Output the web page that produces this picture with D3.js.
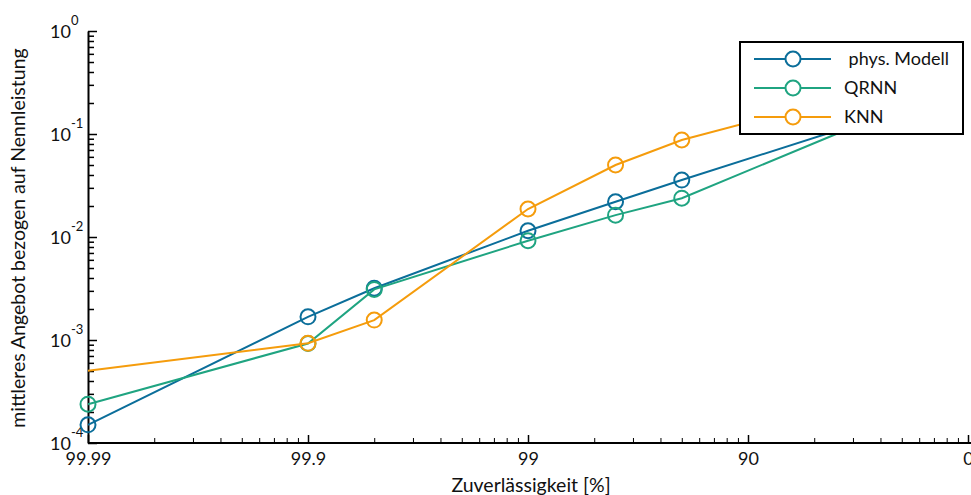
<!DOCTYPE html>
<html>
<head>
<meta charset="utf-8">
<script src="https://cdn.jsdelivr.net/npm/d3@7"></script>
<style>
  body { margin: 0; background: #fff; }
  svg { display: block; font-family: Lato, "Open Sans", sans-serif; }
</style>
</head>
<body>
<svg id="chart" width="971" height="495"></svg>
<script>
// reliability levels [%], x axis is log of (100 - reliability)
var reliability = [99.99, 99.9, 99.8, 99, 97.5, 95, 50];
var physModell = [1.50e-4, 1.68e-3, 3.18e-3, 0.0115, 0.0220, 0.0357, 0.172];
var qrnn = [2.38e-4, 9.25e-4, 3.10e-3, 0.0092, 0.0163, 0.0238, 0.184];
var knn = [5.04e-4, 9.29e-4, 1.56e-3, 0.0187, 0.050, 0.0874, 0.32];

var seriesNames = [" phys. Modell", "QRNN", "KNN"];
var xTickLabels = ["99.99", "99.9", "99", "90", "0"];
var xTickValues = [99.99, 99.9, 99, 90, 0];
var yTickExp = [0, -1, -2, -3, -4];

var colors = ["#0b6e9a", "#1fa481", "#f59c0c"];
// KNN has no marker drawn at its first point
var markerFrom = [0, 0, 1];

var svg = d3.select("#chart");

var x = d3.scaleLog().domain([0.01, 100]).range([88, 968]);
var y = d3.scaleLog().domain([1e-4, 1]).range([443, 31]);

var series = [physModell, qrnn, knn].map((vals, i) => ({
  name: seriesNames[i],
  color: colors[i],
  from: markerFrom[i],
  points: vals.map((v, j) => ({ p: 100 - reliability[j], v: v }))
}));

// axes
var isMajor = (d) => Math.abs(Math.log10(d) - Math.round(Math.log10(d))) < 1e-9;

var xMinor = x.ticks().filter((d) => !isMajor(d));
var yMinor = y.ticks().filter((d) => !isMajor(d));

svg.append("g")
  .attr("transform", "translate(0,443)")
  .call(d3.axisBottom(x).tickValues(xMinor).tickFormat("").tickSizeInner(-5).tickSizeOuter(0))
  .call((g) => g.select(".domain").remove());

var xAx = svg.append("g")
  .attr("transform", "translate(0,443)")
  .call(d3.axisBottom(x)
    .tickValues(xTickValues.map((v) => 100 - v))
    .tickFormat((d, i) => xTickLabels[i])
    .tickSizeInner(-8).tickSizeOuter(0).tickPadding(9));
xAx.select(".domain").attr("stroke-width", 2).attr("d", "M88,0H971");
xAx.selectAll(".tick line").attr("stroke-width", 1.5);
xAx.selectAll("text").attr("font-size", 18).attr("font-family", "Lato").attr("fill", "#111");

svg.append("g")
  .attr("transform", "translate(88,0)")
  .call(d3.axisLeft(y).tickValues(yMinor).tickFormat("").tickSizeInner(-6).tickSizeOuter(0))
  .call((g) => g.select(".domain").remove())
  .selectAll(".tick line").attr("stroke-width", 1.5);

var yAx = svg.append("g")
  .attr("transform", "translate(88,0)")
  .call(d3.axisLeft(y)
    .tickValues(yTickExp.map((e) => Math.pow(10, e)))
    .tickFormat("").tickSizeInner(-9).tickSizeOuter(0));
yAx.select(".domain").attr("stroke-width", 2);
yAx.selectAll(".tick line").attr("stroke-width", 1.5);

var yLab = svg.append("g").selectAll("text")
  .data(yTickExp)
  .enter()
  .append("text")
  .attr("x", 50)
  .attr("y", (d) => y(Math.pow(10, d)) + 7)
  .attr("font-size", 18)
  .attr("fill", "#111");
yLab.append("tspan").text("10");
yLab.append("tspan").attr("dy", -13).attr("font-size", 13).text((d) => d);

// axis titles
svg.append("text")
  .attr("x", 531).attr("y", 492)
  .attr("text-anchor", "middle")
  .attr("font-size", 19.5)
  .attr("fill", "#111")
  .text("Zuverlässigkeit [%]");

svg.append("text")
  .attr("transform", "translate(25,238) rotate(-90)")
  .attr("text-anchor", "middle")
  .attr("font-size", 19.5)
  .attr("fill", "#111")
  .text("mittleres Angebot bezogen auf Nennleistung");

// lines and markers
var line = d3.line().x((d) => x(d.p)).y((d) => y(d.v));

series.forEach((s) => {
  svg.append("path")
    .datum(s.points)
    .attr("d", line)
    .attr("fill", "none")
    .attr("stroke", s.color)
    .attr("stroke-width", 2);
  svg.append("g").selectAll("circle")
    .data(s.points.slice(s.from))
    .enter()
    .append("circle")
    .attr("cx", (d) => x(d.p))
    .attr("cy", (d) => y(d.v))
    .attr("r", 7.5)
    .attr("fill", "none")
    .attr("stroke", s.color)
    .attr("stroke-width", 2);
});

// legend
var lg = svg.append("g").attr("transform", "translate(740,42)");
lg.append("rect")
  .attr("width", 223).attr("height", 92)
  .attr("fill", "#fff").attr("stroke", "#000").attr("stroke-width", 2);
var row = lg.selectAll("g.row")
  .data(series)
  .enter()
  .append("g")
  .attr("class", "row")
  .attr("transform", (d, i) => "translate(0," + (17 + i * 29) + ")");
row.append("line")
  .attr("x1", 14).attr("x2", 91)
  .attr("stroke", (d) => d.color).attr("stroke-width", 2);
row.append("circle")
  .attr("cx", 53).attr("r", 7.5)
  .attr("fill", "#fff")
  .attr("stroke", (d) => d.color).attr("stroke-width", 2);
row.append("text")
  .attr("x", 104).attr("y", 6)
  .attr("font-size", 18)
  .attr("fill", "#111")
  .attr("xml:space", "preserve")
  .style("white-space", "pre")
  .text((d) => d.name);
</script>
</body>
</html>
